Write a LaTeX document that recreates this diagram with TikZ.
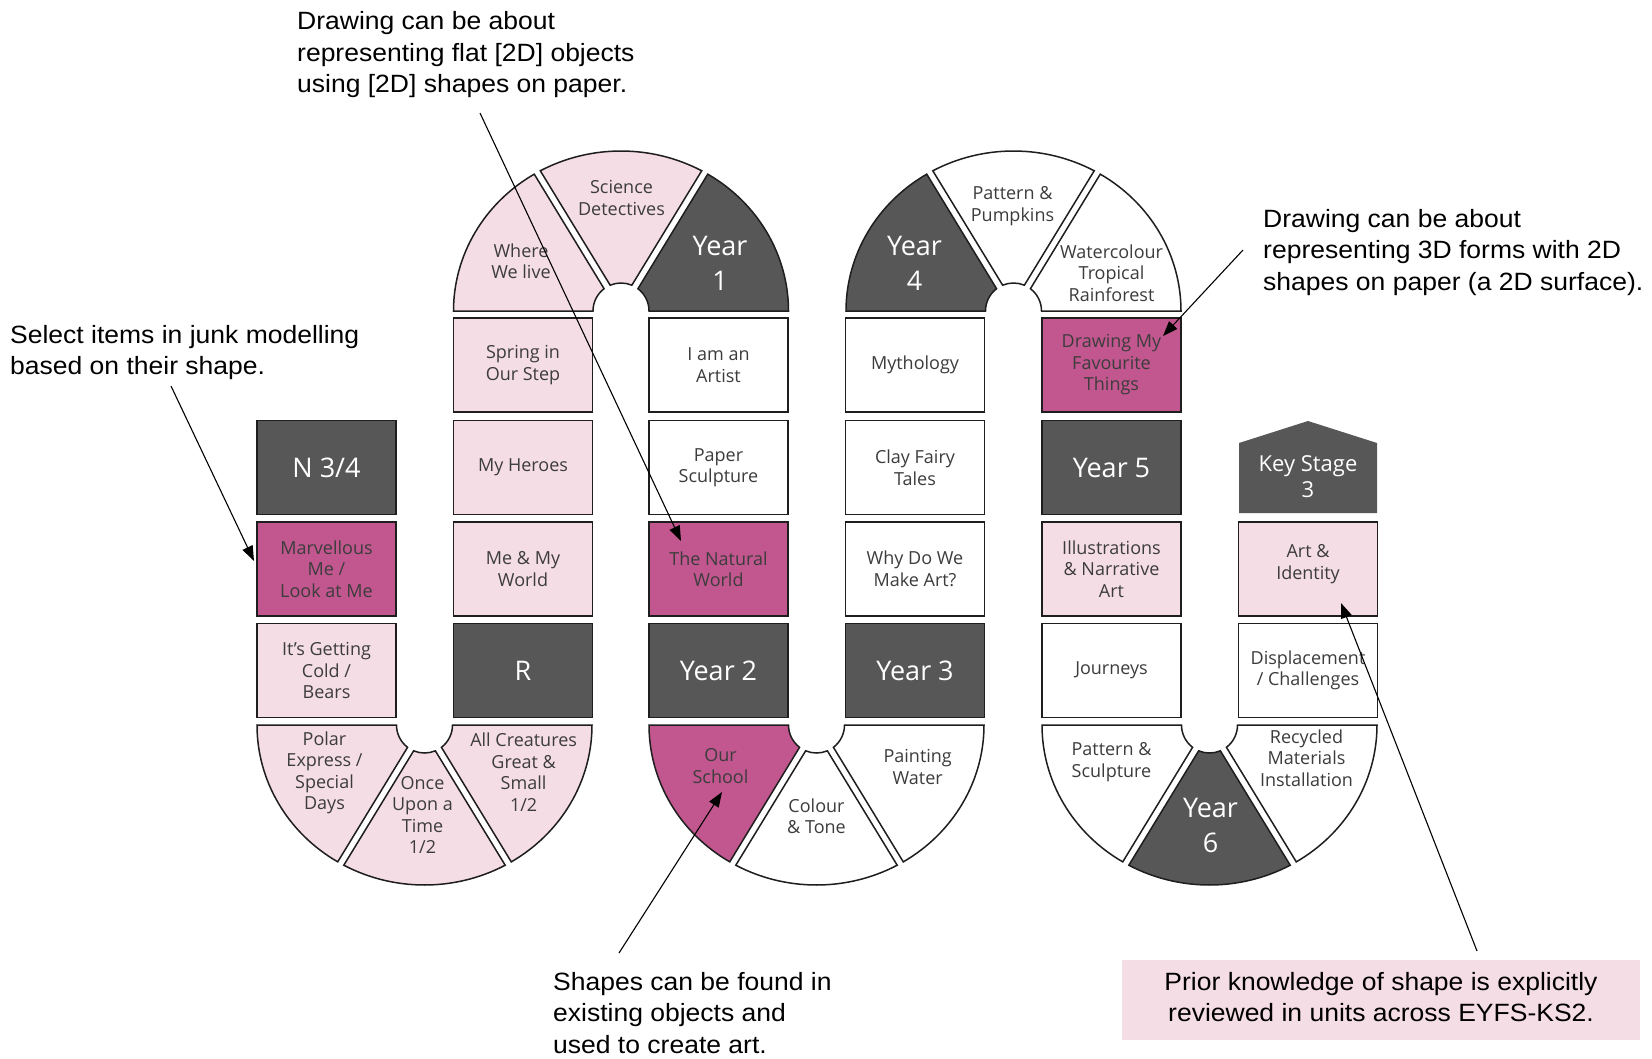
\documentclass[tikz,border=0pt]{standalone}
\usepackage{fontspec}
\setmainfont{Open Sans}
\newfontfamily\annfont[FakeStretch=1.06]{Liberation Sans}
\usetikzlibrary{arrows.meta}
\definecolor{dk}{HTML}{575757}
\definecolor{pk}{HTML}{F5DDE6}
\definecolor{mg}{HTML}{C1578E}
\definecolor{tx}{HTML}{3C3C3C}
\definecolor{ol}{HTML}{1E1E1E}
\newcommand\usector[7]{%
  \begin{scope}[shift={(#1,-#2)}]
    \path[sect,#7] (#3:167.5 and 160) arc[start angle=#3,end angle=#4,x radius=167.5,y radius=160]
      -- (#6:28) arc[start angle=#6,end angle=#5,radius=28] -- cycle;
  \end{scope}}
\begin{document}
\begin{tikzpicture}[x=1pt,y=1pt,
  sect/.style={draw=ol,line width=1.5pt},
  box/.style={draw=ol,line width=1.5pt,minimum width=139pt,minimum height=94pt,inner sep=0pt,
    align=center,text=tx,font=\fontsize{18}{21.5}\selectfont},
  yrt/.style={text=white,align=center,font=\fontsize{27}{35}\selectfont},
  lab/.style={text=tx,align=center,inner sep=0pt,font=\fontsize{18}{21.5}\selectfont},
  annt/.style={align=left,inner sep=0pt,text=black,font=\annfont\fontsize{25}{31.5}\selectfont},
  ann/.style={draw=black,line width=1.1pt,-{Triangle[length=15pt,width=11pt]}}]
\useasboundingbox (0,0) rectangle (1652,-1058);
\fill[white] (0,0) rectangle (1652,-1058);

% ---- top arc 1 (Year 1) ----
\usector{621}{311}{0}{58.8}{0}{52.8}{fill=dk}
\usector{621}{311}{61.2}{118.8}{67.2}{112.8}{fill=pk}
\usector{621}{311}{121.2}{180}{127.2}{180}{fill=pk}
% ---- top arc 2 (Year 4) ----
\usector{1013.5}{311}{0}{58.8}{0}{52.8}{fill=white}
\usector{1013.5}{311}{61.2}{118.8}{67.2}{112.8}{fill=white}
\usector{1013.5}{311}{121.2}{180}{127.2}{180}{fill=dk}
% ---- bottom arc 1 ----
\usector{424.5}{725}{180}{238.8}{180}{232.8}{fill=pk}
\usector{424.5}{725}{241.2}{298.8}{247.2}{292.8}{fill=pk}
\usector{424.5}{725}{301.2}{360}{307.2}{360}{fill=pk}
% ---- bottom arc 2 ----
\usector{816.5}{725}{180}{238.8}{180}{232.8}{fill=mg}
\usector{816.5}{725}{241.2}{298.8}{247.2}{292.8}{fill=white}
\usector{816.5}{725}{301.2}{360}{307.2}{360}{fill=white}
% ---- bottom arc 3 ----
\usector{1209.5}{725}{180}{238.8}{180}{232.8}{fill=white}
\usector{1209.5}{725}{241.2}{298.8}{247.2}{292.8}{fill=dk}
\usector{1209.5}{725}{301.2}{360}{307.2}{360}{fill=white}

% arc labels
\node[lab] (where) at (521,-261) {Where\\We live};
\node[lab] (sci) at (621.5,-198) {Science\\Detectives};
\node[yrt] (y1) at (720,-263) {Year\\1};
\node[yrt] (y4) at (914.5,-263) {Year\\4};
\node[lab] (pump) at (1012.5,-206) {Pattern \&\\Pumpkins};
\node[lab] (water) at (1111.5,-273) {Watercolour\\Tropical\\Rainforest};
\node[lab] (polar) at (324.5,-773) {Polar\\Express /\\Special\\Days};
\node[lab] (once) at (422.5,-815) {Once\\Upon a\\Time\\1/2};
\node[lab] (allc) at (523.6,-772) {All Creatures\\Great \&\\Small\\1/2};
\node[lab] (school) at (720.5,-766) {Our\\School};
\node[lab] (colour) at (816.5,-816) {Colour\\\& Tone};
\node[lab] (paint) at (917.7,-767) {Painting\\Water};
\node[lab] (patsc) at (1111.5,-762) {Pattern \&\\Sculpture};
\node[yrt] (y6) at (1210.5,-825) {Year\\6};
\node[lab] (recyc) at (1306.5,-758) {Recycled\\Materials\\Installation};

% column 1
\node[box,fill=dk,yrt] (n34) at (326.5,-467.5) {N 3/4};
\node[box,fill=mg] (marv) at (326.5,-569) {Marvellous\\Me /\\Look at Me};
\node[box,fill=pk] (cold) at (326.5,-670.5) {It’s Getting\\Cold /\\Bears};
% column 2
\node[box,fill=pk] (spring) at (523,-365) {Spring in\\Our Step};
\node[box,fill=pk] (heroes) at (523,-467.5) {My Heroes};
\node[box,fill=pk] (meworld) at (523,-569) {Me \& My\\World};
\node[box,fill=dk,yrt] (rec) at (523,-670.5) {R};
% column 3
\node[box,fill=white] (artist) at (718.5,-365) {I am an\\Artist};
\node[box,fill=white] (paper) at (718.5,-467.5) {Paper\\Sculpture};
\node[box,fill=mg] (natural) at (718.5,-569) {The Natural\\World};
\node[box,fill=dk,yrt] (y2) at (718.5,-670.5) {Year 2};
% column 4
\node[box,fill=white] (myth) at (915,-365) {Mythology};
\node[box,fill=white] (clay) at (915,-467.5) {Clay Fairy\\Tales};
\node[box,fill=white] (why) at (915,-569) {Why Do We\\Make Art?};
\node[box,fill=dk,yrt] (y3) at (915,-670.5) {Year 3};
% column 5
\node[box,fill=mg] (fav) at (1111.5,-365) {Drawing My\\Favourite\\Things};
\node[box,fill=dk,yrt] (y5) at (1111.5,-467.5) {Year 5};
\node[box,fill=pk] (illus) at (1111.5,-569) {Illustrations\\\& Narrative\\Art};
\node[box,fill=white] (journ) at (1111.5,-670.5) {Journeys};
% column 6
\fill[dk] (1239,-513) -- (1239,-443) -- (1308,-421) -- (1377,-443) -- (1377,-513) -- cycle;
\node[text=white,align=center,font=\fontsize{22}{26}\selectfont] (ks3) at (1308,-477) {Key Stage\\3};
\node[box,fill=pk] (ident) at (1308,-569) {};
\node[lab] (identt) at (1308,-564) {Art \&\\Identity};
\node[box,fill=white] (displ) at (1308,-670.5) {Displacement\\/ Challenges};

% annotations
\node[annt,anchor=north west] (t1) at (297,-11.5) {Drawing can be about\\representing flat [2D] objects\\using [2D] shapes on paper.};
\node[annt,anchor=north west] (t2) at (10,-325) {Select items in junk modelling\\based on their shape.};
\node[annt,anchor=north west] (t3) at (1263,-209) {Drawing can be about\\representing 3D forms with 2D\\shapes on paper (a 2D surface).};
\node[annt,anchor=north west] (t4) at (553,-972) {Shapes can be found in\\existing objects and\\used to create art.};
\node[fill=pk,minimum width=518pt,minimum height=80pt,inner sep=0pt] (t5) at (1381,-1000) {};
\node[annt,align=center] (t5t) at (1381,-997) {Prior knowledge of shape is explicitly\\reviewed in units across EYFS-KS2.};

\coordinate (s1) at (480,-113);
\coordinate (e1) at (681,-541);
\coordinate (s2) at (171,-386);
\coordinate (e2) at (254,-561);
\coordinate (s3) at (1243,-250);
\coordinate (e3) at (1163,-336);
\coordinate (s4) at (619,-953);
\coordinate (e4) at (722,-792);
\coordinate (s5) at (1477,-951);
\coordinate (e5) at (1341,-603);
\draw[ann] (s1) -- (e1);
\draw[ann] (s2) -- (e2);
\draw[ann] (s3) -- (e3);
\draw[ann] (s4) -- (e4);
\draw[ann] (s5) -- (e5);
\end{tikzpicture}
\end{document}
